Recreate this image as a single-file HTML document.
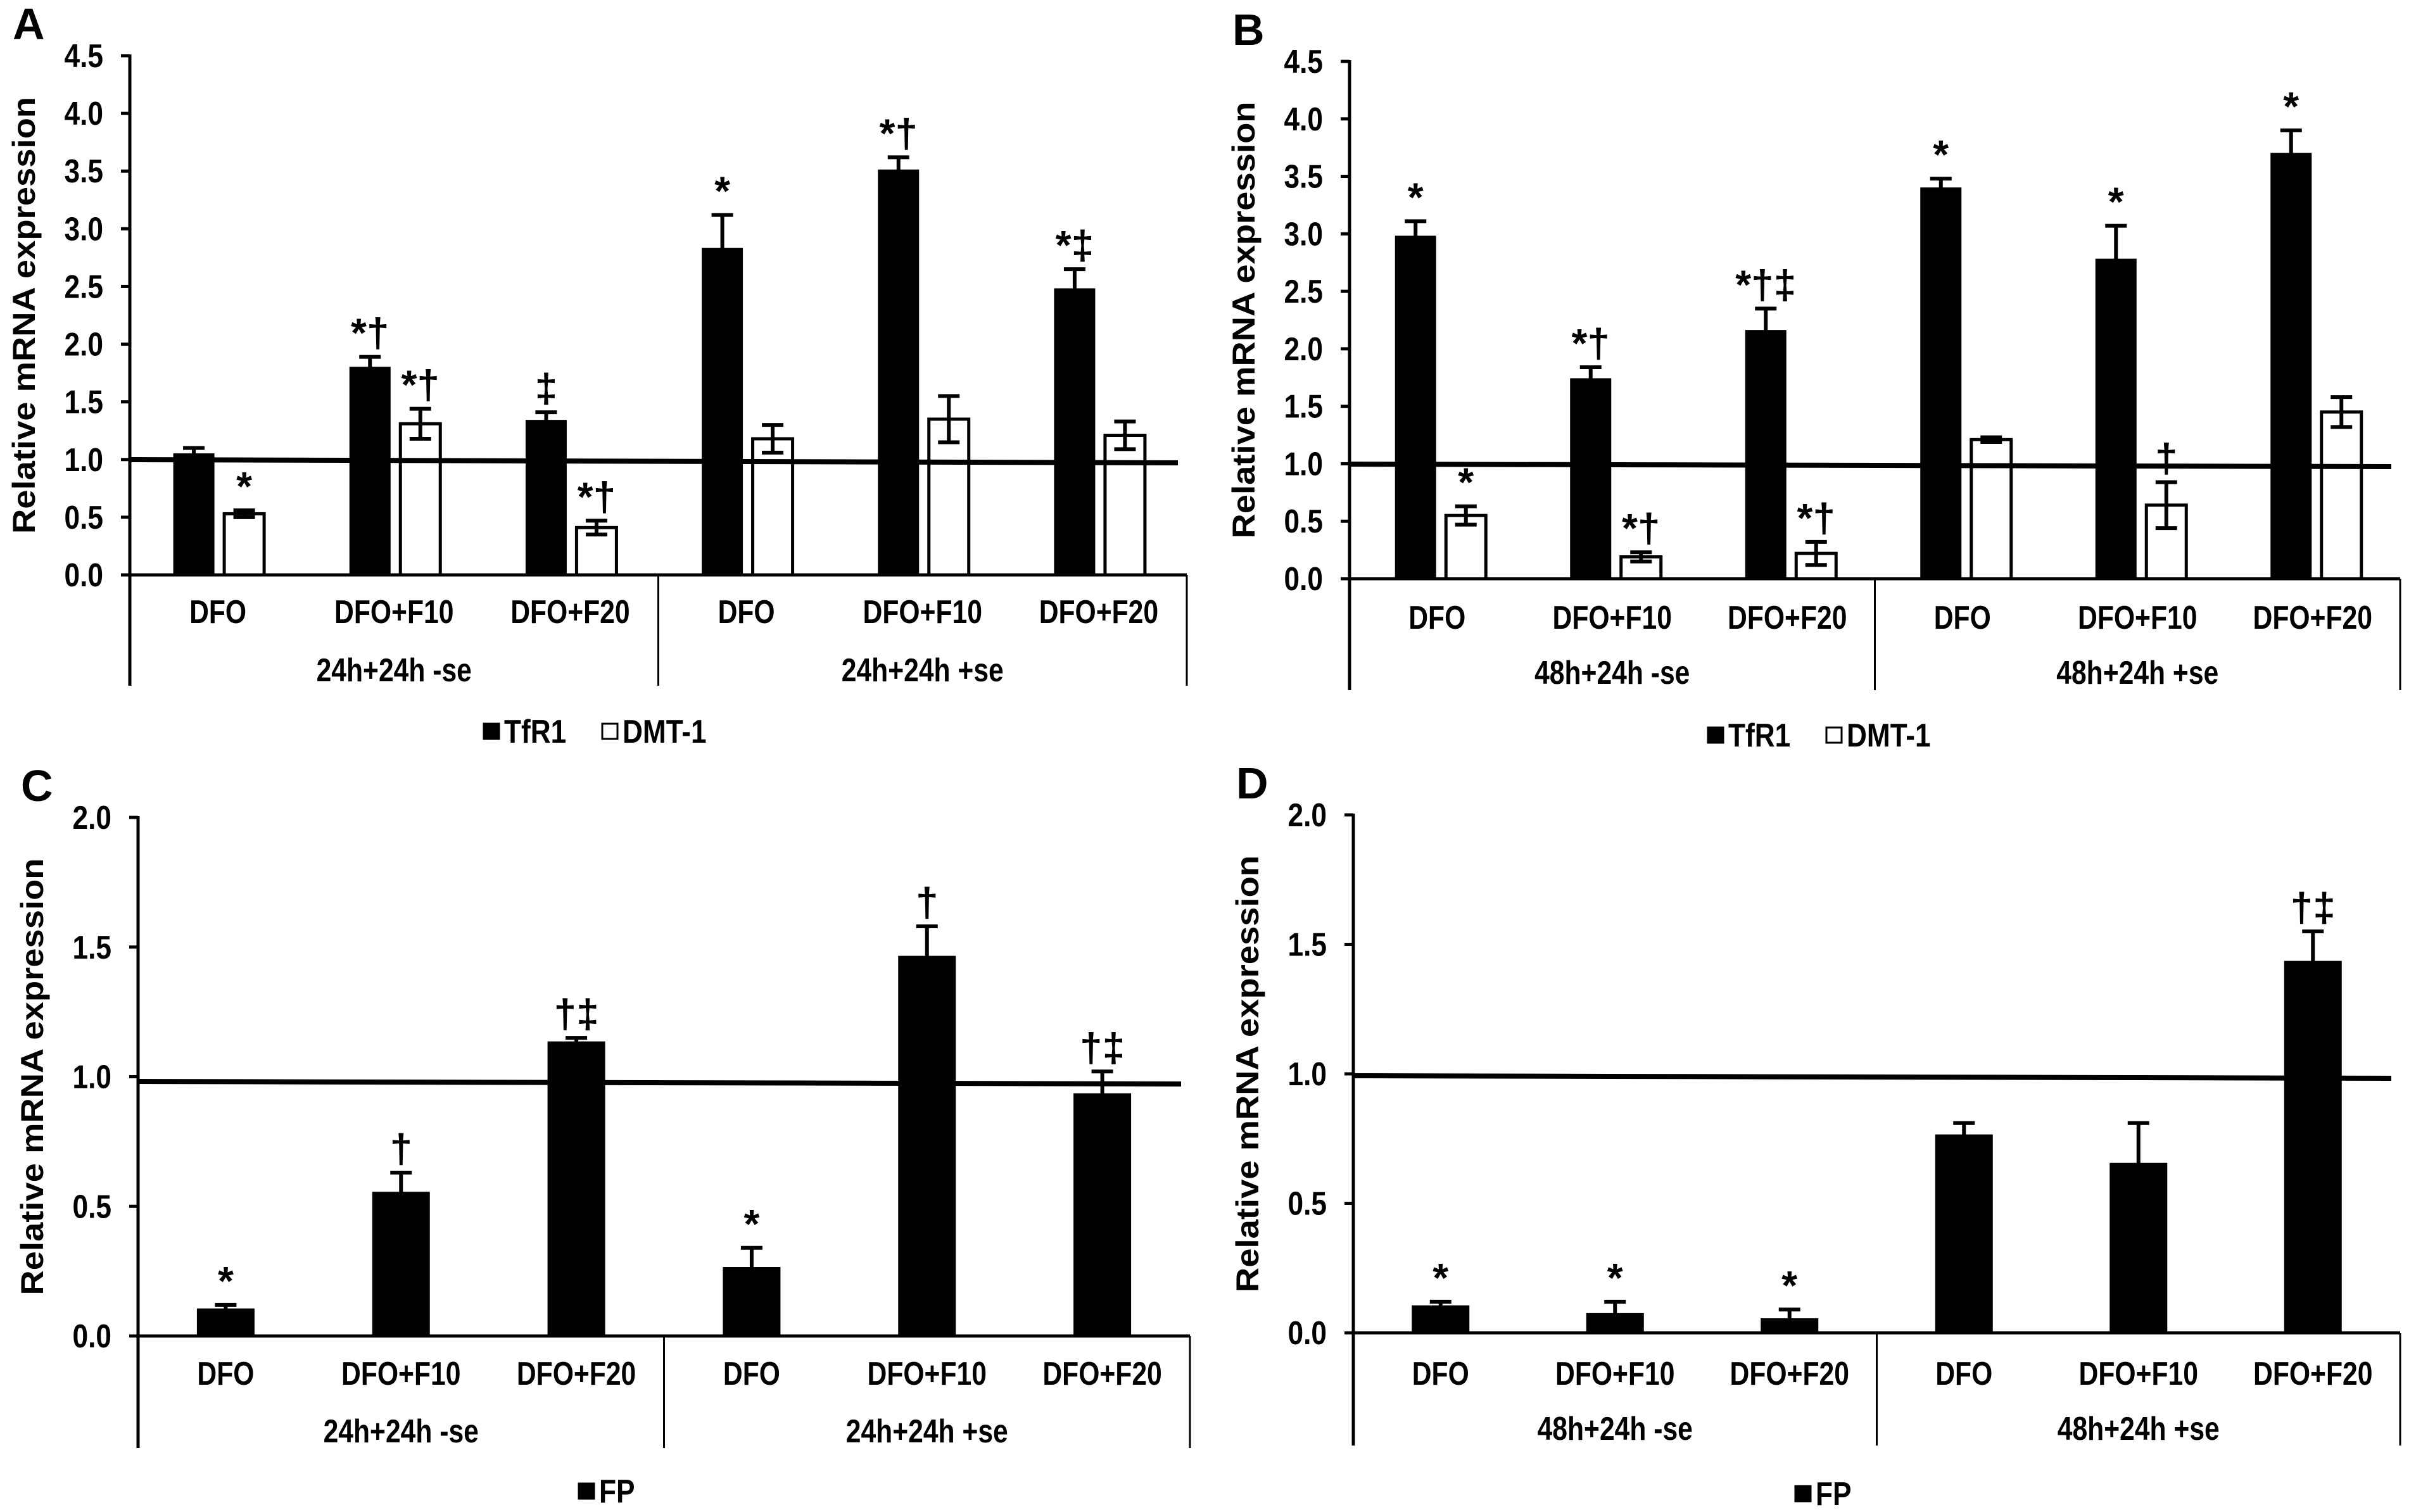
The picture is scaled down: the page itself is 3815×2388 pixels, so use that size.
<!DOCTYPE html>
<html><head><meta charset="utf-8"><style>
html,body{margin:0;padding:0;background:#fff}
svg{display:block}
text{font-family:"Liberation Sans Narrow","Liberation Sans",Arial,sans-serif;font-weight:bold;fill:#000}
.t{font-family:"Liberation Sans",Arial,sans-serif}
</style></head><body>
<svg id="fig" width="3815" height="2388" viewBox="0 0 3815 2388" xmlns="http://www.w3.org/2000/svg"></svg>
<script>
const categories = ["DFO","DFO+F10","DFO+F20","DFO","DFO+F10","DFO+F20"];
const groupsAC = ["24h+24h -se","24h+24h +se"];
const groupsBD = ["48h+24h -se","48h+24h +se"];
const ticksAB = [0,0.5,1,1.5,2,2.5,3,3.5,4,4.5];
const ticksCD = [0,0.5,1,1.5,2];
const aTfR1 = [1.04,1.79,1.33,2.82,3.50,2.47];
const aTfR1Err = [0.06,0.10,0.08,0.30,0.12,0.18];
const aDMT1 = [0.53,1.31,0.41,1.18,1.35,1.21];
const aDMT1Err = [0.03,0.13,0.06,0.12,0.20,0.12];
const aTfR1Sig = ["","*†","‡","*","*†","*‡"];
const aDMT1Sig = ["*","*†","*†","","",""];
const bTfR1 = [2.97,1.73,2.15,3.39,2.77,3.69];
const bTfR1Err = [0.14,0.11,0.20,0.09,0.30,0.21];
const bDMT1 = [0.55,0.19,0.22,1.21,0.64,1.45];
const bDMT1Err = [0.08,0.04,0.10,0.02,0.20,0.13];
const bTfR1Sig = ["*","*†","*†‡","*","*","*"];
const bDMT1Sig = ["*","*†","*†","","†",""];
const cFP = [0.10,0.55,1.13,0.26,1.46,0.93];
const cFPErr = [0.02,0.08,0.02,0.08,0.12,0.09];
const cFPSig = ["*","†","†‡","*","†","†‡"];
const dFP = [0.10,0.07,0.05,0.76,0.65,1.43];
const dFPErr = [0.02,0.05,0.04,0.05,0.16,0.12];
const dFPSig = ["*","*","*","","","†‡"];

const NS="http://www.w3.org/2000/svg";
const svg=document.getElementById('fig');
function mk(tag,attrs,parent,txt){const e=document.createElementNS(NS,tag);for(const k in attrs)e.setAttribute(k,attrs[k]);if(txt!==undefined)e.textContent=txt;(parent||svg).appendChild(e);return e;}
function narrow(t,f){try{const w=t.getComputedTextLength();if(w>0){t.setAttribute('textLength',(w*f).toFixed(1));t.setAttribute('lengthAdjust','spacingAndGlyphs');}}catch(e){}}

function panel(cfg){
  const g=mk('g',{});
  
  
  const x0=cfg.x0,x1=cfg.x1,y0=cfg.y0,yTop=cfg.yTop,max=cfg.ticks[cfg.ticks.length-1];
  const y=v=>y0-(y0-yTop)*v/max;
  const cw=(x1-x0)/categories.length;
  const cx=i=>x0+cw*(i+0.5);
  const L=mk('text',{x:cfg.x0-185,y:yTop-26,'font-size':70,class:'t'},g,cfg.letter);
  
  
  const yt=mk('text',{x:0,y:0,'font-size':50,class:'t','text-anchor':'middle',transform:`translate(${x0-150},${(y0+yTop)/2}) rotate(-90)`,textLength:690,lengthAdjust:'spacingAndGlyphs'},g,'Relative mRNA expression');
  
  
  cfg.ticks.forEach(t=>{
    const tl=mk('line',{x1:x0-14,x2:x0,y1:y(t),y2:y(t),stroke:'#000','stroke-width':5},g);
    
    
    const tx=mk('text',{x:x0-42,y:y(t)+18,'font-size':52,'text-anchor':'end'},g,t.toFixed(1));
    
    
    narrow(tx,0.85);
  });
  const ya=mk('line',{x1:x0,x2:x0,y1:yTop-2,y2:cfg.boxB,stroke:'#000','stroke-width':5},g);
  
  
  const xa=mk('line',{x1:x0,x2:x1,y1:y0,y2:y0,stroke:'#000','stroke-width':5},g);
  
  
  [x0+cw*3,x1].forEach(xx=>{
    const s=mk('line',{x1:xx,x2:xx,y1:y0,y2:cfg.boxB,stroke:'#000','stroke-width':3},g);
    
    
  });
  categories.forEach((c,i)=>{
    const t=mk('text',{x:cx(i),y:cfg.catY+18,'font-size':52,'text-anchor':'middle'},g,c);
    
    
    narrow(t,0.82);
  });
  cfg.groups.forEach((gl,i)=>{
    const t=mk('text',{x:x0+cw*3*(i+0.5),y:cfg.grpY+18,'font-size':52,'text-anchor':'middle'},g,gl);
    
    
    narrow(t,0.82);
  });
  cfg.series.forEach(s=>{
    s.vals.forEach((v,i)=>{
      const bx=cx(i)+s.off, top=y(v);
      const r=mk('rect',{x:bx,y:top,width:s.w,height:y0-top,fill:s.fill,stroke:'#000','stroke-width':5},g);
      
      
      const mx=bx+s.w/2, et=y(v+s.err[i]), eb=s.both?y(v-s.err[i]):top;
      const el=mk('path',{d:`M${mx},${eb}V${et}M${mx-17},${et}H${mx+17}`+(s.both?`M${mx-17},${eb}H${mx+17}`:''),stroke:'#000','stroke-width':6,fill:'none'},g);
      
      
      if(s.sig[i]){
        const st=mk('text',{x:mx,y:et-16,'font-size':64,'text-anchor':'middle',class:'t'},g,s.sig[i]);
        
        
      }
    });
  });
  const rl=mk('line',{x1:x0,x2:x1-14,y1:cfg.refL,y2:cfg.refR,stroke:'#000','stroke-width':8},g);
  
  
  const lg=mk('g',{},g);
  
  
  let lx=cfg.legX;
  cfg.legend.forEach(e=>{
    const sq=mk('rect',{x:lx,y:cfg.legY-12,width:24,height:24,fill:e.fill,stroke:'#000','stroke-width':3},lg);
    
    
    const lt=mk('text',{x:lx+32,y:cfg.legY+18,'font-size':52},lg,e.label);
    
    
    narrow(lt,0.85);
    lx+=e.step;
  });
}
panel({letter:'A',x0:205,x1:1874,y0:908,yTop:88,boxB:1083,catY:966,grpY:1058,refL:726,refR:731,ticks:ticksAB,groups:groupsAC,
  series:[{name:'tfr1',vals:aTfR1,err:aTfR1Err,sig:aTfR1Sig,off:-68,w:60,fill:'#000',both:false},
          {name:'dmt1',vals:aDMT1,err:aDMT1Err,sig:aDMT1Sig,off:10,w:63,fill:'#fff',both:true}],
  legX:764,legY:1155,legend:[{fill:'#000',label:'TfR1',step:187},{fill:'#fff',label:'DMT-1',step:0}]});
panel({letter:'B',x0:2131,x1:3790,y0:914,yTop:97,boxB:1090,catY:975,grpY:1062,refL:733,refR:737,ticks:ticksAB,groups:groupsBD,
  series:[{name:'tfr1',vals:bTfR1,err:bTfR1Err,sig:bTfR1Sig,off:-64,w:60,fill:'#000',both:false},
          {name:'dmt1',vals:bDMT1,err:bDMT1Err,sig:bDMT1Sig,off:14,w:63,fill:'#fff',both:true}],
  legX:2697,legY:1161,legend:[{fill:'#000',label:'TfR1',step:187},{fill:'#fff',label:'DMT-1',step:0}]});
panel({letter:'C',x0:218,x1:1879,y0:2110,yTop:1291,boxB:2287,catY:2169,grpY:2260,refL:1708,refR:1712,ticks:ticksCD,groups:groupsAC,
  series:[{name:'fp',vals:cFP,err:cFPErr,sig:cFPSig,off:-43,w:86,fill:'#000',both:false}],
  legX:914,legY:2355,legend:[{fill:'#000',label:'FP',step:0}]});
panel({letter:'D',x0:2137,x1:3790,y0:2105,yTop:1287,boxB:2283,catY:2169,grpY:2256,refL:1699,refR:1703,ticks:ticksCD,groups:groupsBD,
  series:[{name:'fp',vals:dFP,err:dFPErr,sig:dFPSig,off:-43,w:86,fill:'#000',both:false}],
  legX:2835,legY:2359,legend:[{fill:'#000',label:'FP',step:0}]});
</script>
</body></html>
